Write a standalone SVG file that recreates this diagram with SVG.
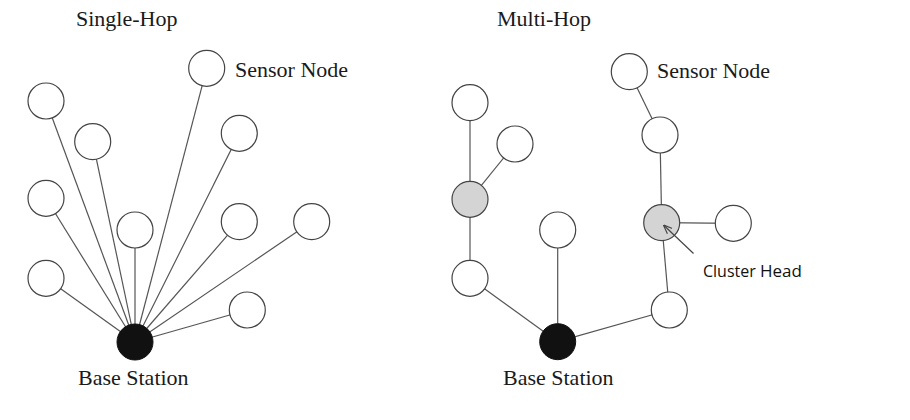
<svg xmlns="http://www.w3.org/2000/svg" width="910" height="420" viewBox="0 0 910 420">
<style>
.lbl{font-family:"Liberation Serif","Times New Roman",serif;font-size:22px;fill:#1a1a1a}
.ch{font-family:"Open Sans","Liberation Sans",Arial,sans-serif;fill:#111}
.ln{stroke:#555;stroke-width:1.2;fill:none}
.n{fill:#fff;stroke:#444;stroke-width:1.2}
.g{fill:#d4d4d4;stroke:#444;stroke-width:1.2}
.b{fill:#111;stroke:#111;stroke-width:1}
</style>
<defs>
<marker id="ah" viewBox="0 0 10 10" refX="9" refY="5" markerWidth="9" markerHeight="9" orient="auto" markerUnits="userSpaceOnUse">
<path d="M0,1 L10,5 L0,9" fill="none" stroke="#444" stroke-width="1.3"/>
</marker>
</defs>
<rect width="910" height="420" fill="#fff"/>
<g id="connectors">
<line class="ln" x1="206.7" y1="68.3" x2="135" y2="342"/>
<line class="ln" x1="46" y1="101" x2="135" y2="342"/>
<line class="ln" x1="92.7" y1="141.7" x2="135" y2="342"/>
<line class="ln" x1="46" y1="198.3" x2="135" y2="342"/>
<line class="ln" x1="135" y1="230" x2="135" y2="342"/>
<line class="ln" x1="46" y1="278.3" x2="135" y2="342"/>
<line class="ln" x1="239.3" y1="133.3" x2="135" y2="342"/>
<line class="ln" x1="239.3" y1="221.7" x2="135" y2="342"/>
<line class="ln" x1="311.7" y1="221.7" x2="135" y2="342"/>
<line class="ln" x1="247.3" y1="310" x2="135" y2="342"/>
<line class="ln" x1="629.3" y1="71.7" x2="660" y2="135"/>
<line class="ln" x1="660" y1="135" x2="661.7" y2="222.7"/>
<line class="ln" x1="661.7" y1="222.7" x2="733.3" y2="223.3"/>
<line class="ln" x1="661.7" y1="222.7" x2="669.3" y2="310"/>
<line class="ln" x1="669.3" y1="310" x2="557.7" y2="341.7"/>
<line class="ln" x1="557.7" y1="230" x2="557.7" y2="341.7"/>
<line class="ln" x1="470" y1="278.3" x2="557.7" y2="341.7"/>
<line class="ln" x1="470" y1="278.3" x2="470" y2="199.3"/>
<line class="ln" x1="470" y1="199.3" x2="470" y2="102.7"/>
<line class="ln" x1="470" y1="199.3" x2="515" y2="144"/>
</g>
<g id="left-sensors">
<circle class="n" cx="206.7" cy="68.3" r="18"/>
<circle class="n" cx="46" cy="101" r="18"/>
<circle class="n" cx="92.7" cy="141.7" r="18"/>
<circle class="n" cx="46" cy="198.3" r="18"/>
<circle class="n" cx="135" cy="230" r="18"/>
<circle class="n" cx="46" cy="278.3" r="18"/>
<circle class="n" cx="239.3" cy="133.3" r="18"/>
<circle class="n" cx="239.3" cy="221.7" r="18"/>
<circle class="n" cx="311.7" cy="221.7" r="18"/>
<circle class="n" cx="247.3" cy="310" r="18"/>
</g>
<g id="left-base"><circle class="b" cx="135" cy="342" r="18"/></g>
<g id="right-sensors">
<circle class="n" cx="629.3" cy="71.7" r="18"/>
<circle class="n" cx="660" cy="135" r="18"/>
<circle class="n" cx="733.3" cy="223.3" r="18"/>
<circle class="n" cx="669.3" cy="310" r="18"/>
<circle class="n" cx="557.7" cy="230" r="18"/>
<circle class="n" cx="470" cy="278.3" r="18"/>
<circle class="n" cx="470" cy="102.7" r="18"/>
<circle class="n" cx="515" cy="144" r="18"/>
</g>
<g id="cluster-heads">
<circle class="g" cx="661.7" cy="222.7" r="18"/>
<circle class="g" cx="470" cy="199.3" r="18"/>
</g>
<g id="right-base"><circle class="b" cx="557.7" cy="341.7" r="18"/></g>
<g id="cluster-arrow"><line x1="693.5" y1="253.5" x2="664" y2="225.5" stroke="#444" stroke-width="1.2" marker-end="url(#ah)"/></g>
<g id="labels">
<text class="lbl" x="76" y="26">Single-Hop</text>
<text class="lbl" x="497" y="26">Multi-Hop</text>
<text class="lbl" x="235" y="77">Sensor Node</text>
<text class="lbl" x="657" y="78">Sensor Node</text>
<text class="lbl" x="78" y="385">Base Station</text>
<text class="lbl" x="503" y="385">Base Station</text>
<text class="ch" x="703" y="277" font-size="16">Cluster <tspan font-size="17">Head</tspan></text>
</g>
</svg>
